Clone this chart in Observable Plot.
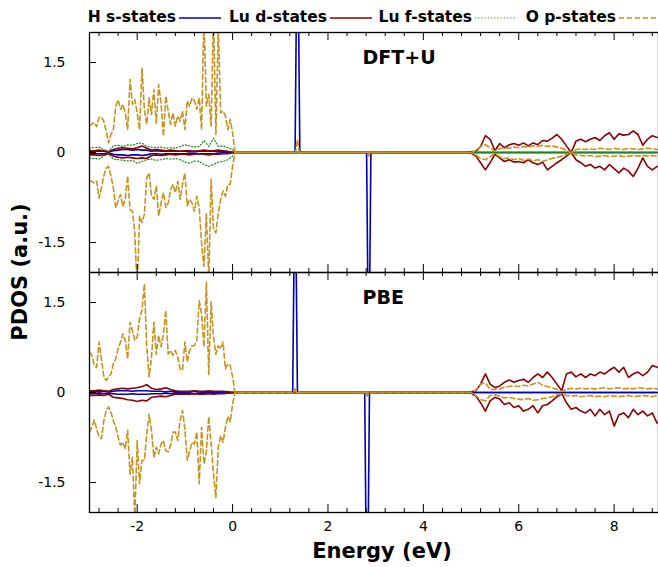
<!DOCTYPE html>
<html><head><meta charset="utf-8">
<script src="https://cdn.jsdelivr.net/npm/d3@7"></script>
<script src="https://cdn.jsdelivr.net/npm/@observablehq/plot@0.6"></script>
<style>
body{margin:0;background:#fff;font-family:"DejaVu Sans",sans-serif;color:#000}
#wrap{position:relative;width:658px;height:567px;overflow:hidden}
#legend{position:relative;height:31px}
.lab{position:absolute;top:8px;font-weight:bold;font-size:15.5px;white-space:nowrap;transform:translateX(-100%);line-height:18px}
.smp{position:absolute;top:13px}
.axlab{position:absolute;font-weight:bold;font-size:21px;white-space:nowrap;transform:translate(-50%,-50%)}
</style></head><body>
<div id="wrap"><div id="legend"></div><div id="chart"></div>
<div class="axlab" style="left:382px;top:551px">Energy (eV)</div>
<div class="axlab" style="left:20px;top:272px;transform:translate(-50%,-50%) rotate(-90deg)">PDOS (a.u.)</div>
</div>
<script>
// ---------- categories / ticks ----------
const panels = ["DFT+U", "PBE"];
const seriesNames = ["H s-states", "Lu d-states", "Lu f-states", "O p-states"];
const seriesColors = ["#0000b4", "#8b0000", "#1f8a1f", "#c8921e"];
const xTicks = [-2, 0, 2, 4, 6, 8];
const xMinorTicks = [-2.8,-2.4,-1.6,-1.2,-0.8,-0.4,0.4,0.8,1.2,1.6,2.4,2.8,3.2,3.6,4.4,4.8,5.2,5.6,6.4,6.8,7.2,7.6,8.4,8.8];
const yTicks = [-1.5, 0, 1.5];

// ---------- energy grids (eV) ----------
const valE = [-3,-2.95,-2.9,-2.85,-2.8,-2.75,-2.7,-2.65,-2.6,-2.55,-2.5,-2.45,-2.4,-2.35,-2.3,-2.25,-2.2,-2.15,-2.1,-2.05,-2,-1.95,-1.9,-1.85,-1.8,-1.75,-1.7,-1.65,-1.6,-1.55,-1.5,-1.45,-1.4,-1.35,-1.3,-1.25,-1.2,-1.15,-1.1,-1.05,-1,-0.95,-0.9,-0.85,-0.8,-0.75,-0.7,-0.65,-0.6,-0.55,-0.5,-0.45,-0.4,-0.35,-0.3,-0.25,-0.2,-0.15,-0.1,-0.05,0];
const coarseE = [-3,-2.9,-2.8,-2.7,-2.6,-2.5,-2.4,-2.3,-2.2,-2.1,-2,-1.9,-1.8,-1.7,-1.6,-1.5,-1.4,-1.3,-1.2,-1.1,-1,-0.9,-0.8,-0.7,-0.6,-0.5,-0.4,-0.3,-0.2,-0.1,0];
const condE = [5,5.1,5.2,5.3,5.4,5.5,5.6,5.7,5.8,5.9,6,6.1,6.2,6.3,6.4,6.5,6.6,6.7,6.8,6.9,7,7.1,7.2,7.3,7.4,7.5,7.6,7.7,7.8,7.9,8,8.1,8.2,8.3,8.4,8.5,8.6,8.7,8.8,8.9];
const gapE = [0.05, 4.9];
const gapV = [0, 0];
const flatE = [0.05, 8.9];
const flatV = [0, 0];

// ---------- DFT+U panel ----------
const opUpVal_U = [0.44,0.48,0.5,0.43,0.59,0.59,0.52,0.36,0.16,0.3,0.38,0.77,0.88,0.72,0.8,0.66,0.38,1.22,0.8,0.88,0.66,0.38,1.41,0.72,0.47,0.91,0.63,1.05,0.49,1.13,0.83,0.27,0.94,0.69,0.47,0.66,0.44,0.61,0.52,0.69,0.38,0.86,0.77,0.91,0.86,0.72,0.91,0.38,2.3,0.77,0.97,0.44,2.3,0.3,2.1,0.66,0.69,0.61,0.38,0.55,0.33];
const opDnVal_U = [-0.48,-0.48,-0.51,-0.48,-0.76,-0.59,-0.39,-0.26,-0.23,-0.39,-0.59,-0.92,-0.81,-0.7,-0.9,-0.78,-0.39,-0.95,-0.98,-1.34,-2.3,-1.06,-1.17,-1.03,-0.42,-0.34,-0.73,-0.78,-0.56,-1.06,-0.84,-0.67,-0.92,-0.84,-0.62,-0.53,-0.67,-0.48,-0.78,-0.53,-0.34,-0.89,-0.78,-0.84,-0.98,-0.73,-0.92,-1.51,-1.9,-1.01,-2.1,-0.45,-1.28,-1.34,-1.01,-0.78,-0.64,-0.73,-0.53,-0.53,-0.23];
const opUpMidE_U = [0.05, 1.32, 1.36, 1.40, 4.9];
const opUpMidV_U = [0, 0, 0.22, 0, 0];
const opDnMidE_U = [0.05, 2.82, 2.85, 2.88, 4.9];
const opDnMidV_U = [0, 0, -0.06, 0, 0];
const opUpCond_U = [0,0.03,0.1,0.13,0.08,0.02,0.06,0.08,0.07,0.09,0.08,0.1,0.09,0.11,0.1,0.12,0.1,0.11,0.09,0.07,0.04,0,0.05,0.06,0.05,0.06,0.05,0.07,0.06,0.05,0.07,0.06,0.05,0.07,0.06,0.05,0.06,0.07,0.06,0.05];
const opDnCond_U = [0,-0.04,-0.1,-0.12,-0.07,-0.02,-0.07,-0.1,-0.09,-0.12,-0.1,-0.13,-0.11,-0.14,-0.12,-0.15,-0.12,-0.1,-0.08,-0.06,-0.03,0,-0.04,-0.05,-0.06,-0.05,-0.07,-0.06,-0.05,-0.07,-0.06,-0.05,-0.07,-0.06,-0.05,-0.06,-0.05,-0.06,-0.05,-0.06];
const ldUpVal_U = [0.03,0.03,0.04,0.03,0.01,0.05,0.07,0.08,0.07,0.06,0.08,0.11,0.07,0.04,0.05,0.04,0.03,0.04,0.03,0.02,0.03,0.03,0.02,0.03,0.04,0.03,0.03,0.04,0.03,0.02,0];
const ldDnVal_U = [-0.04,-0.04,-0.05,-0.04,-0.02,-0.06,-0.08,-0.09,-0.08,-0.09,-0.1,-0.09,-0.1,-0.05,-0.04,-0.05,-0.04,-0.03,-0.04,-0.03,-0.03,-0.04,-0.03,-0.02,-0.03,-0.04,-0.03,-0.03,-0.02,-0.02,0];
const ldUpCond_U = [0.01,0.02,0.1,0.28,0.22,0.03,0.15,0.08,0.13,0.15,0.12,0.16,0.11,0.16,0.13,0.2,0.19,0.24,0.3,0.22,0.11,0,0.19,0.22,0.18,0.22,0.25,0.2,0.28,0.33,0.22,0.31,0.29,0.3,0.36,0.3,0.12,0.22,0.28,0.25];
const ldDnCond_U = [-0.01,-0.06,-0.17,-0.29,-0.17,-0.03,-0.09,-0.15,-0.12,-0.16,-0.15,-0.17,-0.12,-0.17,-0.2,-0.16,-0.29,-0.23,-0.17,-0.12,-0.06,0,-0.12,-0.17,-0.23,-0.2,-0.26,-0.23,-0.29,-0.2,-0.27,-0.34,-0.26,-0.31,-0.4,-0.26,-0.09,-0.23,-0.29,-0.23];
const lfUpVal_U = [0.07,0.08,0.09,0.05,0.02,0.11,0.12,0.1,0.13,0.12,0.15,0.16,0.1,0.09,0.08,0.09,0.07,0.08,0.07,0.1,0.13,0.11,0.09,0.1,0.2,0.1,0.24,0.1,0.11,0.08,0.05];
const lfDnVal_U = [-0.09,-0.1,-0.11,-0.06,-0.02,-0.11,-0.12,-0.13,-0.14,-0.13,-0.18,-0.15,-0.12,-0.11,-0.13,-0.12,-0.1,-0.11,-0.1,-0.12,-0.16,-0.18,-0.14,-0.15,-0.2,-0.23,-0.2,-0.16,-0.15,-0.12,-0.06];
const hsUpVal_U = [0.02,0.02,0.02,0.02,0.01,0.03,0.04,0.05,0.05,0.04,0.05,0.04,0.04,0.02,0.03,0.02,0.02,0.02,0.02,0.02,0.02,0.01,0.02,0.02,0.02,0.02,0.02,0.02,0.01,0.01,0];
const hsDnVal_U = [-0.02,-0.02,-0.02,-0.02,-0.01,-0.03,-0.04,-0.04,-0.05,-0.04,-0.04,-0.05,-0.04,-0.02,-0.02,-0.03,-0.02,-0.02,-0.02,-0.02,-0.02,-0.02,-0.01,-0.02,-0.02,-0.02,-0.02,-0.01,-0.01,-0.01,0];
const hsUpPeakE_U = [0.05, 1.31, 1.34, 1.38, 1.41, 8.9];
const hsUpPeakV_U = [0, 0, 2.6, 2.6, 0, 0];
const hsDnPeakE_U = [0.05, 2.81, 2.84, 2.87, 2.9, 8.9];
const hsDnPeakV_U = [0, 0, -2.6, -2.6, 0, 0];

// ---------- PBE panel ----------
const opUpVal_P = [0.67,0.62,0.45,0.42,0.84,0.56,0.26,0.2,0.26,0.31,0.48,0.56,0.73,0.84,0.98,0.87,0.56,1.17,1.03,0.87,0.92,1.23,1.37,1.81,0.78,0.26,0.59,1.17,0.64,0.95,0.76,0.98,1.37,0.64,0.7,0.62,0.7,0.59,0.39,0.37,0.84,0.51,0.7,0.78,0.78,0.87,1.53,1.31,0.76,1.84,0.3,1.51,0.92,0.64,0.78,0.73,0.84,0.39,0.48,0.45,0.26];
const opDnVal_P = [-0.66,-0.58,-0.46,-0.61,-0.74,-0.77,-0.47,-0.3,-0.24,-0.33,-0.47,-0.58,-0.74,-0.88,-0.83,-0.94,-0.63,-1.36,-1.08,-2.1,-0.8,-1.52,-1.13,-1.13,-0.69,-0.36,-0.63,-1.08,-0.91,-1.02,-0.86,-0.8,-0.97,-0.99,-0.88,-0.66,-0.66,-0.8,-0.47,-0.3,-0.61,-1.13,-0.97,-0.83,-0.86,-0.66,-1.52,-0.58,-1.19,-0.99,-0.4,-0.86,-1.36,-1.75,-0.91,-0.72,-0.83,-0.58,-0.4,-0.49,-0.19];
const opUpMidE_P = [0.05, 1.27, 1.31, 1.35, 4.9];
const opUpMidV_P = [0, 0, 0.06, 0, 0];
const opDnMidE_P = [0.05, 2.78, 2.82, 2.86, 4.9];
const opDnMidV_P = [0, 0, -0.06, 0, 0];
const opUpCond_P = [0,0.04,0.14,0.16,0.05,0.05,0.06,0.09,0.1,0.11,0.1,0.12,0.11,0.14,0.17,0.12,0.1,0.08,0.05,0.02,0.05,0.07,0.06,0.07,0.06,0.07,0.06,0.07,0.08,0.06,0.07,0.08,0.06,0.07,0.06,0.08,0.07,0.06,0.07,0.06];
const opDnCond_P = [0,-0.05,-0.12,-0.14,-0.05,-0.04,-0.06,-0.09,-0.08,-0.1,-0.11,-0.12,-0.1,-0.13,-0.12,-0.1,-0.09,-0.07,-0.04,-0.02,-0.05,-0.06,-0.05,-0.07,-0.06,-0.05,-0.07,-0.06,-0.07,-0.05,-0.06,-0.07,-0.06,-0.05,-0.07,-0.06,-0.05,-0.06,-0.07,-0.05];
const ldUpVal_P = [0.03,0.03,0.04,0.03,0.02,0.05,0.06,0.07,0.06,0.07,0.08,0.1,0.13,0.07,0.05,0.06,0.08,0.05,0.03,0.02,0.02,0.02,0.03,0.02,0.02,0.03,0.02,0.02,0.02,0.01,0];
const ldDnVal_P = [-0.05,-0.05,-0.04,-0.05,-0.03,-0.08,-0.09,-0.1,-0.12,-0.13,-0.15,-0.13,-0.14,-0.08,-0.07,-0.06,-0.07,-0.05,-0.03,-0.03,-0.03,-0.03,-0.02,-0.03,-0.03,-0.02,-0.03,-0.02,-0.02,-0.01,0];
const ldUpCond_P = [0.01,0.03,0.14,0.31,0.14,0.08,0.11,0.17,0.21,0.17,0.2,0.22,0.17,0.25,0.31,0.25,0.34,0.25,0.14,0.03,0.31,0.34,0.26,0.31,0.25,0.31,0.28,0.34,0.31,0.37,0.42,0.34,0.42,0.25,0.31,0.34,0.28,0.34,0.45,0.42];
const ldDnCond_P = [-0.01,-0.06,-0.17,-0.31,-0.14,-0.08,-0.11,-0.2,-0.17,-0.25,-0.22,-0.31,-0.28,-0.22,-0.34,-0.22,-0.2,-0.14,-0.07,-0.02,-0.17,-0.28,-0.25,-0.31,-0.34,-0.28,-0.39,-0.28,-0.37,-0.31,-0.56,-0.37,-0.34,-0.42,-0.28,-0.37,-0.31,-0.39,-0.34,-0.51];
const hsUpVal_P = [0.02,0.02,0.01,0.02,0.01,0.02,0.03,0.03,0.03,0.02,0.03,0.03,0.03,0.02,0.02,0.02,0.01,0.02,0.01,0.01,0.01,0.01,0.02,0.01,0.01,0.01,0.01,0.01,0.01,0.01,0];
const hsDnVal_P = [-0.02,-0.02,-0.01,-0.02,-0.01,-0.02,-0.03,-0.03,-0.03,-0.02,-0.03,-0.03,-0.03,-0.02,-0.02,-0.02,-0.01,-0.02,-0.01,-0.01,-0.01,-0.01,-0.02,-0.01,-0.01,-0.01,-0.01,-0.01,-0.01,-0.01,0];
const hsUpPeakE_P = [0.05, 1.26, 1.29, 1.33, 1.36, 8.9];
const hsUpPeakV_P = [0, 0, 2.4, 2.4, 0, 0];
const hsDnPeakE_P = [0.05, 2.77, 2.8, 2.84, 2.87, 8.9];
const hsDnPeakV_P = [0, 0, -2.6, -2.6, 0, 0];

// ---------- build table ----------
const rows = [];
function add(panel, series, spin, parts) {
  for (const [E, V] of parts) E.forEach((e, i) => rows.push({panel, series, spin, E: e, v: V[i]}));
}
add("DFT+U", "H s-states", "up", [[coarseE, hsUpVal_U], [hsUpPeakE_U, hsUpPeakV_U]]);
add("DFT+U", "H s-states", "dn", [[coarseE, hsDnVal_U], [hsDnPeakE_U, hsDnPeakV_U]]);
add("DFT+U", "Lu d-states", "up", [[coarseE, ldUpVal_U], [gapE, gapV], [condE, ldUpCond_U]]);
add("DFT+U", "Lu d-states", "dn", [[coarseE, ldDnVal_U], [gapE, gapV], [condE, ldDnCond_U]]);
add("DFT+U", "Lu f-states", "up", [[coarseE, lfUpVal_U], [flatE, flatV]]);
add("DFT+U", "Lu f-states", "dn", [[coarseE, lfDnVal_U], [flatE, flatV]]);
add("DFT+U", "O p-states", "up", [[valE, opUpVal_U], [opUpMidE_U, opUpMidV_U], [condE, opUpCond_U]]);
add("DFT+U", "O p-states", "dn", [[valE, opDnVal_U], [opDnMidE_U, opDnMidV_U], [condE, opDnCond_U]]);
add("PBE", "H s-states", "up", [[coarseE, hsUpVal_P], [hsUpPeakE_P, hsUpPeakV_P]]);
add("PBE", "H s-states", "dn", [[coarseE, hsDnVal_P], [hsDnPeakE_P, hsDnPeakV_P]]);
add("PBE", "Lu d-states", "up", [[coarseE, ldUpVal_P], [gapE, gapV], [condE, ldUpCond_P]]);
add("PBE", "Lu d-states", "dn", [[coarseE, ldDnVal_P], [gapE, gapV], [condE, ldDnCond_P]]);
add("PBE", "O p-states", "up", [[valE, opUpVal_P], [opUpMidE_P, opUpMidV_P], [condE, opUpCond_P]]);
add("PBE", "O p-states", "dn", [[valE, opDnVal_P], [opDnMidE_P, opDnMidV_P], [condE, opDnCond_P]]);

const styles = {
  "H s-states": {strokeWidth: 1.6},
  "Lu d-states": {strokeWidth: 1.6},
  "Lu f-states": {strokeWidth: 1.2, strokeDasharray: "1.2,2"},
  "O p-states": {strokeWidth: 1.6, strokeDasharray: "5,3"}
};

// ---------- legend ----------
const legendRight = [176, 327, 472, 616];
const leg = document.getElementById("legend");
seriesNames.forEach((s, i) => {
  const t = document.createElement("div");
  t.className = "lab"; t.style.left = legendRight[i] + "px"; t.textContent = s;
  leg.appendChild(t);
  const svg = d3.create("svg").attr("class", "smp").attr("width", 44).attr("height", 10)
    .style("left", (legendRight[i] + 3) + "px");
  svg.append("line").attr("x1", 0).attr("x2", 42).attr("y1", 5).attr("y2", 5)
    .attr("stroke", seriesColors[i]).attr("stroke-width", styles[s].strokeWidth)
    .attr("stroke-dasharray", styles[s].strokeDasharray || null);
  leg.appendChild(svg.node());
});

// ---------- plot ----------
const innerW = 658 - 89;
const panelH = 240;
const chart = Plot.plot({
  width: 658, height: 536,
  marginLeft: 89, marginRight: 0, marginTop: 1, marginBottom: 55,
  style: {fontFamily: "DejaVu Sans", fontSize: "14px", color: "#000", background: "#fff"},
  x: {domain: [-3, 8.93]},
  y: {domain: [-2, 2]},
  fy: {domain: panels, axis: null, padding: 0},
  color: {domain: seriesNames, range: seriesColors},
  marks: [
    ...seriesNames.map(s => Plot.line(rows.filter(r => r.series === s), {
      x: "E", y: "v", z: "spin", fy: "panel", stroke: "series", clip: true, ...styles[s]
    })),
    Plot.text(panels, {fy: d => d, text: d => d, frameAnchor: "top-left", dx: 273, dy: 25,
      textAnchor: "start", lineAnchor: "middle", fontWeight: "bold", fontSize: 19}),
    Plot.tickX(xTicks, {x: d => d, insetTop: panelH - 8, stroke: "#000"}),
    Plot.tickX(xTicks, {x: d => d, insetBottom: panelH - 8, stroke: "#000"}),
    Plot.tickX(xMinorTicks, {x: d => d, insetTop: panelH - 4, stroke: "#000"}),
    Plot.tickX(xMinorTicks, {x: d => d, insetBottom: panelH - 4, stroke: "#000"}),
    Plot.tickY(yTicks, {y: d => d, insetRight: innerW - 7, stroke: "#000"}),
    Plot.frame({stroke: "#000", strokeWidth: 1.3}),
    Plot.axisY({ticks: yTicks, tickSize: 0, tickPadding: 24, tickFormat: d => String(d), fontSize: 14, label: null}),
    Plot.axisX({ticks: xTicks, tickSize: 0, tickPadding: 9, tickFormat: d => String(d), fontSize: 14, label: null})
  ]
});
document.getElementById("chart").appendChild(chart);
</script>
</body></html>
